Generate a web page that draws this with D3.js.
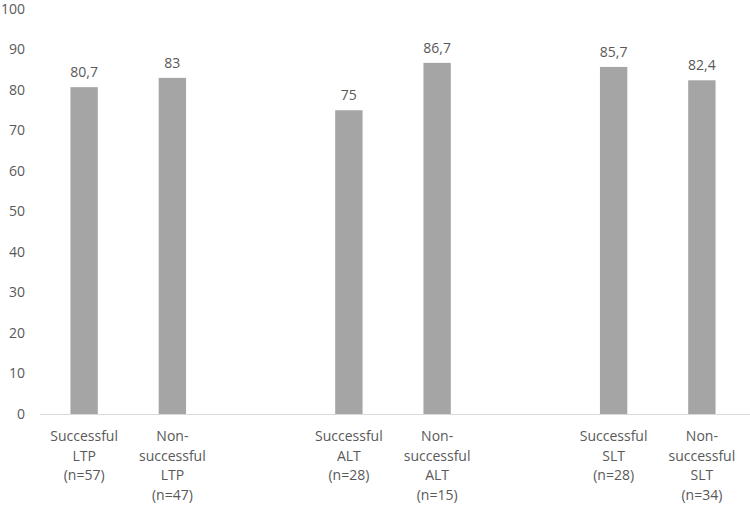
<!DOCTYPE html>
<html>
<head>
<meta charset="utf-8">
<script src="https://cdn.jsdelivr.net/npm/d3@7"></script>
<style>
  body { margin: 0; background: #fff; }
  text { font-family: "Open Sans", sans-serif; fill: #595959; }
</style>
</head>
<body>
<svg width="750" height="505"></svg>
<script>
// categories (empty slots "gap1"/"gap2" keep the spacing between groups)
const slots = ["sLTP", "nLTP", "gap1", "sALT", "nALT", "gap2", "sSLT", "nSLT"];
const categories = ["sLTP", "nLTP", "sALT", "nALT", "sSLT", "nSLT"];
const values = [80.7, 83, 75, 86.7, 85.7, 82.4];
const valueLabels = ["80,7", "83", "75", "86,7", "85,7", "82,4"];
const catLabels = [
  ["Successful", "LTP", "(n=57)"],
  ["Non-", "successful", "LTP", "(n=47)"],
  ["Successful", "ALT", "(n=28)"],
  ["Non-", "successful", "ALT", "(n=15)"],
  ["Successful", "SLT", "(n=28)"],
  ["Non-", "successful", "SLT", "(n=34)"]
];
const yTicks = [0, 10, 20, 30, 40, 50, 60, 70, 80, 90, 100];

const svg = d3.select("svg");

const x = d3.scaleBand()
  .domain(slots)
  .range([40, 746])
  .paddingInner(0.69)
  .paddingOuter(0.345);

const y = d3.scaleLinear()
  .domain([0, 100])
  .range([414, 9]);

// y tick labels (no gridlines)
svg.append("g")
  .selectAll("text")
  .data(yTicks)
  .join("text")
  .attr("x", 25)
  .attr("y", d => y(d))
  .attr("dy", "0.35em")
  .attr("text-anchor", "end")
  .style("font-size", "14px")
  .text(d => d);

// bars
svg.append("g")
  .selectAll("rect")
  .data(categories)
  .join("rect")
  .attr("x", d => x(d))
  .attr("y", (d, i) => y(values[i]))
  .attr("width", x.bandwidth())
  .attr("height", (d, i) => y(0) - y(values[i]))
  .attr("fill", "#a5a5a5");

// value labels
svg.append("g")
  .selectAll("text")
  .data(categories)
  .join("text")
  .attr("x", d => x(d) + x.bandwidth() / 2)
  .attr("y", (d, i) => y(values[i]) - 15)
  .attr("dy", "0.35em")
  .attr("text-anchor", "middle")
  .style("font-size", "14px")
  .text((d, i) => valueLabels[i]);

// baseline
svg.append("line")
  .attr("x1", 40)
  .attr("x2", 750)
  .attr("y1", y(0) + 0.5)
  .attr("y2", y(0) + 0.5)
  .attr("stroke", "#d9d9d9")
  .attr("stroke-width", 1);

// category labels
const cl = svg.append("g")
  .selectAll("text")
  .data(categories)
  .join("text")
  .attr("text-anchor", "middle")
  .style("font-size", "14px");

cl.each(function(d, i) {
  const cx = x(d) + x.bandwidth() / 2;
  d3.select(this).selectAll("tspan")
    .data(catLabels[i])
    .join("tspan")
    .attr("x", cx)
    .attr("y", (t, j) => 436 + j * 19.7)
    .attr("dy", "0.35em")
    .text(t => t);
});
</script>
</body>
</html>
